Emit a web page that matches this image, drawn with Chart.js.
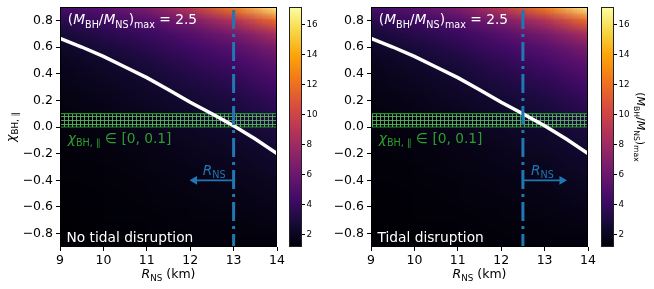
<!DOCTYPE html>
<html>
<head>
<meta charset="utf-8">
<script src="https://cdn.jsdelivr.net/npm/chart.js@4.4.1/dist/chart.umd.min.js"></script>
<style>
  html, body { margin: 0; padding: 0; background: #fff; }
  #fig { position: relative; width: 654px; height: 289px; overflow: hidden; }
  #fig canvas { position: absolute; top: 0; }
</style>
</head>
<body>
<div id="fig">
  <canvas id="mainL" style="left:0px;width:300px;height:289px" width="300" height="289"></canvas>
  <canvas id="cbL" style="left:283px;width:47px;height:289px" width="47" height="289"></canvas>
  <canvas id="mainR" style="left:320px;width:290px;height:289px" width="290" height="289"></canvas>
  <canvas id="cbR" style="left:594px;width:60px;height:289px" width="60" height="289"></canvas>
</div>
<script>
// ── data ─────────────────────────────────────────────
const R_KM  = [9, 10, 11, 12, 13, 14];
const CHI   = [0.9, 0.8, 0.7, 0.6, 0.5, 0.4, 0.3, 0.2, 0.1, 0.0,
               -0.1, -0.2, -0.3, -0.4, -0.5, -0.6, -0.7, -0.8, -0.9];
// (M_BH/M_NS)_max per column of R_NS, top (chi=0.9) to bottom (chi=-0.9)
const Q_R9  = [4.6, 3.5, 2.72, 2.25, 1.98, 1.8, 1.66, 1.55, 1.47, 1.4, 1.35, 1.31, 1.27, 1.24, 1.21, 1.19, 1.17, 1.16, 1.15];
const Q_R10 = [5.3, 4.2, 3.4, 2.85, 2.42, 2.15, 1.95, 1.8, 1.68, 1.58, 1.5, 1.44, 1.38, 1.34, 1.3, 1.27, 1.24, 1.21, 1.19];
const Q_R11 = [6.7, 5.1, 4.1, 3.5, 3.0, 2.62, 2.35, 2.15, 1.98, 1.85, 1.74, 1.64, 1.56, 1.49, 1.43, 1.38, 1.33, 1.29, 1.25];
const Q_R12 = [9.3, 6.6, 5.1, 4.3, 3.75, 3.3, 2.9, 2.55, 2.33, 2.15, 2.0, 1.87, 1.75, 1.65, 1.56, 1.48, 1.41, 1.35, 1.3];
const Q_R13 = [12.6, 8.7, 6.4, 5.2, 4.5, 3.9, 3.45, 3.05, 2.75, 2.48, 2.28, 2.1, 1.95, 1.82, 1.7, 1.6, 1.5, 1.42, 1.35];
const Q_R14 = [16.8, 11.8, 8.4, 6.6, 5.6, 4.9, 4.3, 3.8, 3.4, 3.0, 2.75, 2.5, 2.3, 2.1, 1.95, 1.8, 1.65, 1.5, 1.4];
const Q_COLS = [Q_R9, Q_R10, Q_R11, Q_R12, Q_R13, Q_R14];

// white contour (M_BH/M_NS)_max = 2.5
const LINE_R   = [9, 9.5, 10, 10.5, 11, 11.5, 12, 12.5, 13, 13.5, 14];
const LINE_CHI = [0.665, 0.60, 0.53, 0.45, 0.37, 0.28, 0.185, 0.10, 0.01, -0.09, -0.20];

const BAND      = [0, 0.1];          // chi range of hatched band
const R_CUT     = [13.0, 12.5];      // dash-dot line per panel
const ARROW_END = [12.1, 13.4];      // arrow head centre per panel
const ARROW_CHI = -0.4;
const PANEL_TXT = ['No tidal disruption', 'Tidal disruption'];

const X_TICKS  = [9, 10, 11, 12, 13, 14];
const Y_TICKS  = [-0.8, -0.6, -0.4, -0.2, 0, 0.2, 0.4, 0.6, 0.8];
const CB_MIN   = 1.15, CB_MAX = 17.15;
const CB_TICKS = [2, 4, 6, 8, 10, 12, 14, 16];

// inferno
const INFERNO = ['#000004', '#160b39', '#420a68', '#6a176e', '#932667', '#bc3754',
                 '#dd513a', '#f37819', '#fca50a', '#f6d746', '#fcffa4'];
const FONT = 'DejaVu Sans';
const BLUE = '#1f77b4';
const GREEN = '#2ca02c';

function hex2rgb(h) { return [1, 3, 5].map(i => parseInt(h.substr(i, 2), 16)); }
const INF_RGB = INFERNO.map(hex2rgb);
function inferno(v) {
  let t = (v - CB_MIN) / (CB_MAX - CB_MIN);
  t = Math.max(0, Math.min(1, t)) * (INF_RGB.length - 1);
  const i = Math.min(Math.floor(t), INF_RGB.length - 2), f = t - i;
  return INF_RGB[i].map((c, k) => Math.round(c + (INF_RGB[i + 1][k] - c) * f));
}

// small image, one pixel per grid value
let _heatImg = null;
function heatImage() {
  if (_heatImg) return _heatImg;
  const c = document.createElement('canvas');
  c.width = R_KM.length; c.height = CHI.length;
  const g = c.getContext('2d');
  const im = g.createImageData(c.width, c.height);
  Q_COLS.forEach((col, i) => col.forEach((v, j) => {
    const p = (j * c.width + i) * 4, rgb = inferno(v);
    im.data[p] = rgb[0]; im.data[p + 1] = rgb[1]; im.data[p + 2] = rgb[2]; im.data[p + 3] = 255;
  }));
  g.putImageData(im, 0, 0);
  return (_heatImg = c);
}

function hatch() {
  const c = document.createElement('canvas');
  c.width = 4; c.height = 4;
  const g = c.getContext('2d');
  g.fillStyle = 'rgba(92, 190, 92, 0.85)';
  g.fillRect(0, 0, 4, 1);
  g.fillRect(0, 0, 1, 4);
  return g.createPattern(c, 'repeat');
}

// rich text: [text, italic, subscript]
function richWidth(ctx, parts, size) {
  let w = 0;
  parts.forEach(([t, it, sub]) => {
    ctx.font = `${it ? 'italic ' : ''}${sub ? size * 0.7 : size}px "${FONT}"`;
    w += ctx.measureText(t).width;
  });
  return w;
}
function drawRich(ctx, parts, x, y, size, color, align) {
  ctx.save();
  ctx.fillStyle = color;
  ctx.textBaseline = 'alphabetic';
  ctx.textAlign = 'left';
  let cx = align === 'center' ? x - richWidth(ctx, parts, size) / 2 : x;
  parts.forEach(([t, it, sub]) => {
    ctx.font = `${it ? 'italic ' : ''}${sub ? size * 0.7 : size}px "${FONT}"`;
    ctx.fillText(t, cx, y + (sub ? size * 0.25 : 0));
    cx += ctx.measureText(t).width;
  });
  ctx.restore();
}
function drawRotated(ctx, parts, x, y, size, color, angle) {
  ctx.save();
  ctx.translate(x, y);
  ctx.rotate(angle);
  drawRich(ctx, parts, 0, 0, size, color, 'center');
  ctx.restore();
}

const T_QMAX  = [['(', 0, 0], ['M', 1, 0], ['BH', 0, 1], ['/', 0, 0], ['M', 1, 0], ['NS', 0, 1], [')', 0, 0], ['max', 0, 1]];
const T_LEVEL = T_QMAX.concat([[' = 2.5', 0, 0]]);
const T_BAND  = [['χ', 1, 0], ['BH, ∥', 0, 1], [' ∈ [0, 0.1]', 0, 0]];
const T_RNS   = [['R', 1, 0], ['NS', 0, 1]];
const T_XLAB  = [['R', 1, 0], ['NS', 0, 1], [' (km)', 0, 0]];
const T_YLAB  = [['χ', 1, 0], ['BH, ∥', 0, 1]];

const heatmapPlugin = {
  id: 'heatmap',
  beforeDatasetsDraw(chart) {
    const { ctx, chartArea: a, scales: { x, y } } = chart;
    const dR = R_KM[1] - R_KM[0], dC = CHI[0] - CHI[1];
    const l = x.getPixelForValue(R_KM[0] - dR / 2), r = x.getPixelForValue(R_KM[R_KM.length - 1] + dR / 2);
    const t = y.getPixelForValue(CHI[0] + dC / 2), b = y.getPixelForValue(CHI[CHI.length - 1] - dC / 2);
    ctx.save();
    ctx.beginPath();
    ctx.rect(a.left, a.top, a.right - a.left, a.bottom - a.top);
    ctx.clip();
    ctx.imageSmoothingEnabled = true;
    ctx.drawImage(heatImage(), l, t, r - l, b - t);
    ctx.restore();
  }
};

function panelPlugin(k) {
  return {
    id: 'panel' + k,
    afterDraw(chart) {
      const { ctx, chartArea: a, scales: { x, y } } = chart;
      ctx.save();
      ctx.strokeStyle = '#000';
      ctx.lineWidth = 1;
      ctx.strokeRect(a.left + 0.5, a.top + 0.5, a.right - a.left - 1, a.bottom - a.top - 1);
      ctx.restore();
      drawRich(ctx, T_LEVEL, x.getPixelForValue(9.18), y.getPixelForValue(0.77), 13.75, '#fff');
      drawRich(ctx, [[PANEL_TXT[k], 0, 0]], x.getPixelForValue(9.15), y.getPixelForValue(-0.86), 13.75, '#fff');
      drawRich(ctx, T_BAND, x.getPixelForValue(9.18), y.getPixelForValue(-0.12), 13.75, GREEN);
      drawRich(ctx, T_RNS, x.getPixelForValue((R_CUT[k] + ARROW_END[k]) / 2), y.getPixelForValue(-0.36), 13.75, BLUE, 'center');
      drawRich(ctx, T_XLAB, (a.left + a.right) / 2, 278, 12.5, '#000', 'center');
      if (k === 0) drawRotated(ctx, T_YLAB, 15, (a.top + a.bottom) / 2, 12.5, '#000', -Math.PI / 2);
    }
  };
}

const tickFont = { family: FONT, size: 12.5 };

function makePanel(id, k, yWidth, padRight) {
  return new Chart(document.getElementById(id), {
    type: 'scatter',
    data: {
      datasets: [
        { data: [{ x: R_CUT[k], y: ARROW_CHI }, { x: ARROW_END[k], y: ARROW_CHI }],
          showLine: true, borderColor: BLUE, borderWidth: 1.6, backgroundColor: BLUE,
          pointRadius: [0, 5], pointStyle: 'triangle', pointRotation: [0, k === 0 ? 270 : 90],
          pointBorderWidth: 0, order: 1 },
        { data: [{ x: R_CUT[k], y: 0.9 }, { x: R_CUT[k], y: -0.9 }],
          showLine: true, borderColor: BLUE, borderWidth: 3, borderDash: [19, 5, 3, 5], borderDashOffset: -3,
          pointRadius: 0, order: 2 },
        { data: LINE_R.map((r, i) => ({ x: r, y: LINE_CHI[i] })),
          showLine: true, borderColor: '#fff', borderWidth: 3.5, pointRadius: 0, order: 3 },
        { data: [{ x: 9, y: BAND[1] }, { x: 14, y: BAND[1] }],
          showLine: true, borderColor: '#23902a', borderWidth: 1.2, pointRadius: 0,
          fill: 'origin', backgroundColor: hatch(), order: 4 },
        { data: [{ x: 9, y: BAND[0] }, { x: 14, y: BAND[0] }],
          showLine: true, borderColor: '#23902a', borderWidth: 1.2, pointRadius: 0, order: 4 },
      ]
    },
    options: {
      responsive: false,
      animation: false,
      layout: { padding: { left: 0, top: 7, right: padRight, bottom: 0 } },
      plugins: { legend: { display: false }, tooltip: { enabled: false } },
      scales: {
        x: {
          type: 'linear', min: 9, max: 14,
          afterBuildTicks: a => { a.ticks = X_TICKS.map(v => ({ value: v })); },
          afterFit: a => { a.height = 42; a.paddingLeft = 0; a.paddingRight = 0; },
          ticks: { font: tickFont, color: '#000', padding: 2, callback: v => String(v) },
          grid: { drawOnChartArea: false, drawTicks: true, tickLength: 4, color: '#000' },
          border: { display: false },
        },
        y: {
          type: 'linear', min: -0.9, max: 0.9,
          afterBuildTicks: a => { a.ticks = Y_TICKS.map(v => ({ value: v })); },
          afterFit: a => { a.width = yWidth; a.paddingTop = 0; a.paddingBottom = 0; },
          ticks: { font: tickFont, color: '#000', padding: 3,
                   callback: v => (v < -1e-9 ? '−' : '') + Math.abs(v).toFixed(1) },
          grid: { drawOnChartArea: false, drawTicks: true, tickLength: 4, color: '#000' },
          border: { display: false },
        },
      },
    },
    plugins: [heatmapPlugin, panelPlugin(k)],
  });
}

function cbGradient(chart) {
  const a = chart.chartArea;
  if (!a) return '#000';
  const g = chart.ctx.createLinearGradient(0, a.bottom, 0, a.top);
  INFERNO.forEach((c, i) => g.addColorStop(i / (INFERNO.length - 1), c));
  return g;
}

function makeColorbar(id, padLeft, axisWidth, label) {
  return new Chart(document.getElementById(id), {
    type: 'bar',
    data: {
      labels: ['q'],
      datasets: [{ data: [[CB_MIN, CB_MAX]], backgroundColor: c => cbGradient(c.chart),
                   barPercentage: 1, categoryPercentage: 1, borderWidth: 0 }],
    },
    options: {
      responsive: false,
      animation: false,
      layout: { padding: { left: padLeft, top: 7, right: 0, bottom: 42 } },
      plugins: { legend: { display: false }, tooltip: { enabled: false } },
      scales: {
        x: { display: false },
        y: {
          position: 'right', min: CB_MIN, max: CB_MAX,
          afterBuildTicks: a => { a.ticks = CB_TICKS.map(v => ({ value: v })); },
          afterFit: a => { a.width = axisWidth; a.paddingTop = 0; a.paddingBottom = 0; },
          ticks: { font: { family: FONT, size: 8.75 }, color: '#000', padding: 1.5 },
          grid: { drawOnChartArea: false, drawTicks: true, tickLength: 3, color: '#000' },
          border: { display: false },
        },
      },
    },
    plugins: [{
      id: 'cbframe',
      afterDraw(chart) {
        const { ctx, chartArea: a } = chart;
        ctx.save();
        ctx.strokeStyle = '#222';
        ctx.lineWidth = 1;
        ctx.strokeRect(a.left + 0.5, a.top + 0.5, a.right - a.left - 1, a.bottom - a.top - 1);
        ctx.restore();
        if (label) drawRotated(ctx, T_QMAX, a.right + 23, (a.top + a.bottom) / 2, 11, '#000', Math.PI / 2);
      }
    }],
  });
}

makePanel('mainL', 0, 60, 23);
makePanel('mainR', 1, 51, 22);
makeColorbar('cbL', 6, 28, false);
makeColorbar('cbR', 7, 40, true);
</script>
</body>
</html>
